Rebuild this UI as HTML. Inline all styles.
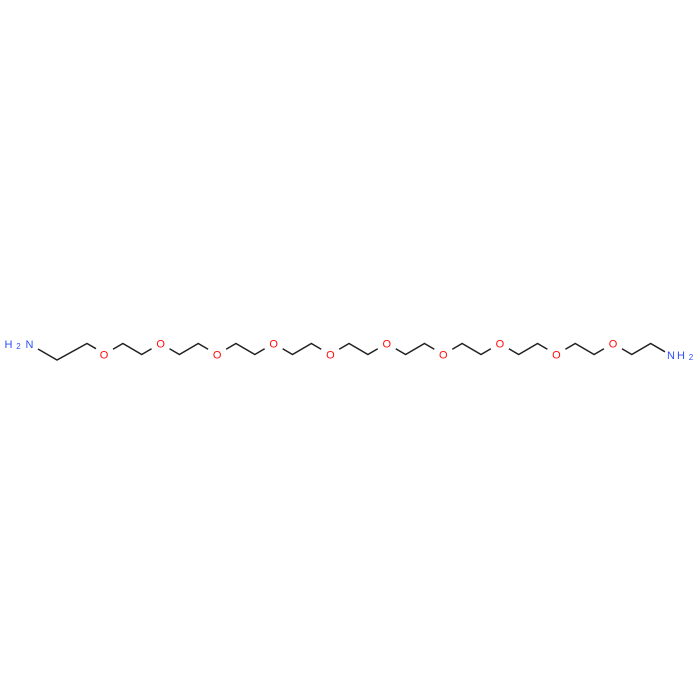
<!DOCTYPE html>
<html><head><meta charset="utf-8"><style>
html,body{margin:0;padding:0;background:#fff;}
svg{display:block;}
text{font-family:"Liberation Sans",sans-serif;}
</style></head><body>
<svg width="700" height="700" viewBox="0 0 700 700" xmlns="http://www.w3.org/2000/svg">
<rect width="700" height="700" fill="#fff"/>
<g stroke="#222" stroke-width="1.5" fill="none" stroke-linecap="butt" stroke-linejoin="miter">
<polyline points="38,349 57,360 87,343.5 96,348.7"/>
<polyline points="113,349.25 122.85,343.5 141.7,354.5 151.55,348.75"/>
<polyline points="169.55,348.75 179.4,354.5 198.25,343.5 208.1,349.25"/>
<polyline points="226.1,349.25 235.95,343.5 254.8,354.5 264.65,348.75"/>
<polyline points="282.65,348.75 292.5,354.5 311.35,343.5 321.2,349.25"/>
<polyline points="339.2,349.25 349.05,343.5 367.9,354.5 377.75,348.75"/>
<polyline points="395.75,348.75 405.6,354.5 424.45,343.5 434.3,349.25"/>
<polyline points="452.3,349.25 462.15,343.5 481,354.5 490.85,348.75"/>
<polyline points="508.85,348.75 518.7,354.5 537.55,343.5 547.4,349.25"/>
<polyline points="565.4,349.25 575.25,343.5 594.1,354.5 603.95,348.75"/>
<polyline points="621.95,348.75 631.8,354.5 650.65,343.5 665,351.8"/>
</g>
<g fill="#ff0d0d" font-size="11" text-anchor="middle">
<text x="104" y="358.5">O</text>
<text x="160.6" y="347.5">O</text>
<text x="217.1" y="358.5">O</text>
<text x="273.7" y="347.5">O</text>
<text x="330.4" y="358.5">O</text>
<text x="386.8" y="347.5">O</text>
<text x="443.3" y="358.5">O</text>
<text x="499.9" y="347.5">O</text>
<text x="556.4" y="358.5">O</text>
<text x="613" y="347.5">O</text>
</g>
<g fill="#3050f8" text-anchor="middle">
<text x="8.5" y="348" font-size="11">H</text>
<text x="18.5" y="349" font-size="8">2</text>
<text x="29.5" y="348" font-size="11">N</text>
<text x="671" y="359" font-size="11">N</text>
<text x="681" y="359" font-size="11">H</text>
<text x="691" y="360" font-size="8">2</text>
</g>
</svg>
</body></html>
